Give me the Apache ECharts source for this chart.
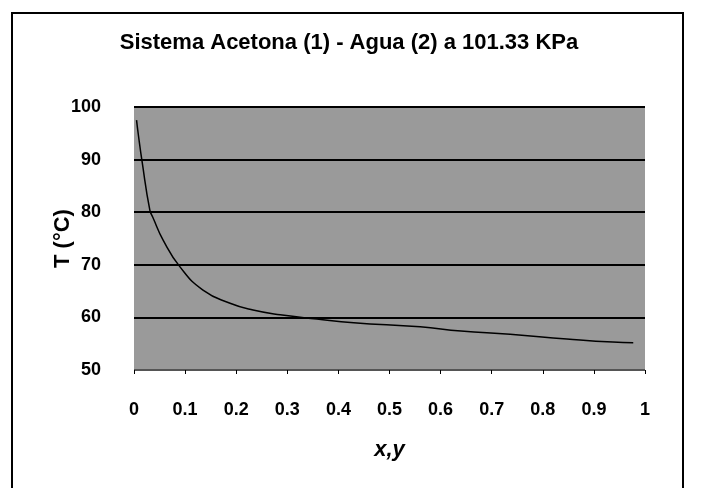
<!DOCTYPE html>
<html>
<head>
<meta charset="utf-8">
<script src="https://cdn.jsdelivr.net/npm/echarts@6/dist/echarts.min.js"></script>
<style>
  html, body { margin: 0; padding: 0; background: #fff; }
  #chart { width: 702px; height: 488px; }
</style>
</head>
<body>
<div id="chart"></div>
<script>
  // liquid mole fraction of acetone vs boiling temperature
  const xValues = [0.005, 0.008, 0.016, 0.031, 0.037, 0.057, 0.09, 0.135, 0.188, 0.233, 0.286, 0.358, 0.43, 0.56, 0.64, 0.736, 0.847, 0.937, 0.977];
  const tValues = [97.5, 95.1, 89.5, 80.4, 79.0, 74.7, 69.6, 65.2, 62.7, 61.4, 60.5, 59.7, 59.0, 58.2, 57.4, 56.8, 55.9, 55.3, 55.2];
  const xTicks = ['0', '0.1', '0.2', '0.3', '0.4', '0.5', '0.6', '0.7', '0.8', '0.9', '1'];

  const chart = echarts.init(document.getElementById('chart'));
  const font = 'Liberation Sans, Arial, sans-serif';

  const option = {
    backgroundColor: '#fff',
    animation: false,
    title: {
      text: 'Sistema Acetona (1) - Agua (2) a 101.33 KPa',
      left: 344,
      top: 27,
      textAlign: 'center',
      textStyle: { fontFamily: font, fontSize: 22, fontWeight: 'bold', color: '#000' }
    },
    graphic: [{
      type: 'rect',
      shape: { x: 12, y: 13, width: 671, height: 500 },
      style: { fill: 'none', stroke: '#000', lineWidth: 2 },
      silent: true
    }],
    grid: {
      left: 134,
      right: 57,
      top: 107,
      bottom: 118,
      show: true,
      backgroundColor: '#9a9a9a',
      borderWidth: 0
    },
    xAxis: {
      type: 'value',
      min: 0,
      max: 1,
      interval: 0.1,
      name: 'x,y',
      nameLocation: 'middle',
      nameGap: 69,
      nameMoveOverlap: false,
      nameTextStyle: { fontFamily: font, fontSize: 22, fontWeight: 'bold', fontStyle: 'italic', color: '#000' },
      axisLine: { show: false },
      axisTick: { show: true, length: 4, lineStyle: { color: '#000', width: 1 } },
      axisLabel: {
        margin: 31,
        fontFamily: font, fontSize: 18, fontWeight: 'bold', color: '#000',
        formatter: (v) => xTicks[Math.round(v * 10)]
      },
      splitLine: { show: false }
    },
    yAxis: {
      type: 'value',
      min: 50,
      max: 100,
      interval: 10,
      name: 'T (°C)',
      nameLocation: 'middle',
      nameGap: 60,
      nameMoveOverlap: false,
      nameRotate: 90,
      nameTextStyle: { fontFamily: font, fontSize: 22, fontWeight: 'bold', color: '#000' },
      axisLine: { show: false },
      axisTick: { show: false },
      axisLabel: {
        margin: 33,
        fontFamily: font, fontSize: 18, fontWeight: 'bold', color: '#000'
      },
      splitLine: {
        show: true,
        lineStyle: { color: ['#555', '#000', '#000', '#000', '#000', '#000'], width: 2 }
      }
    },
    series: [{
      type: 'line',
      data: xValues.map((x, i) => [x, tValues[i]]),
      smooth: true,
      showSymbol: false,
      lineStyle: { color: '#000', width: 1.5 }
    }]
  };

  chart.setOption(option);
</script>
</body>
</html>
